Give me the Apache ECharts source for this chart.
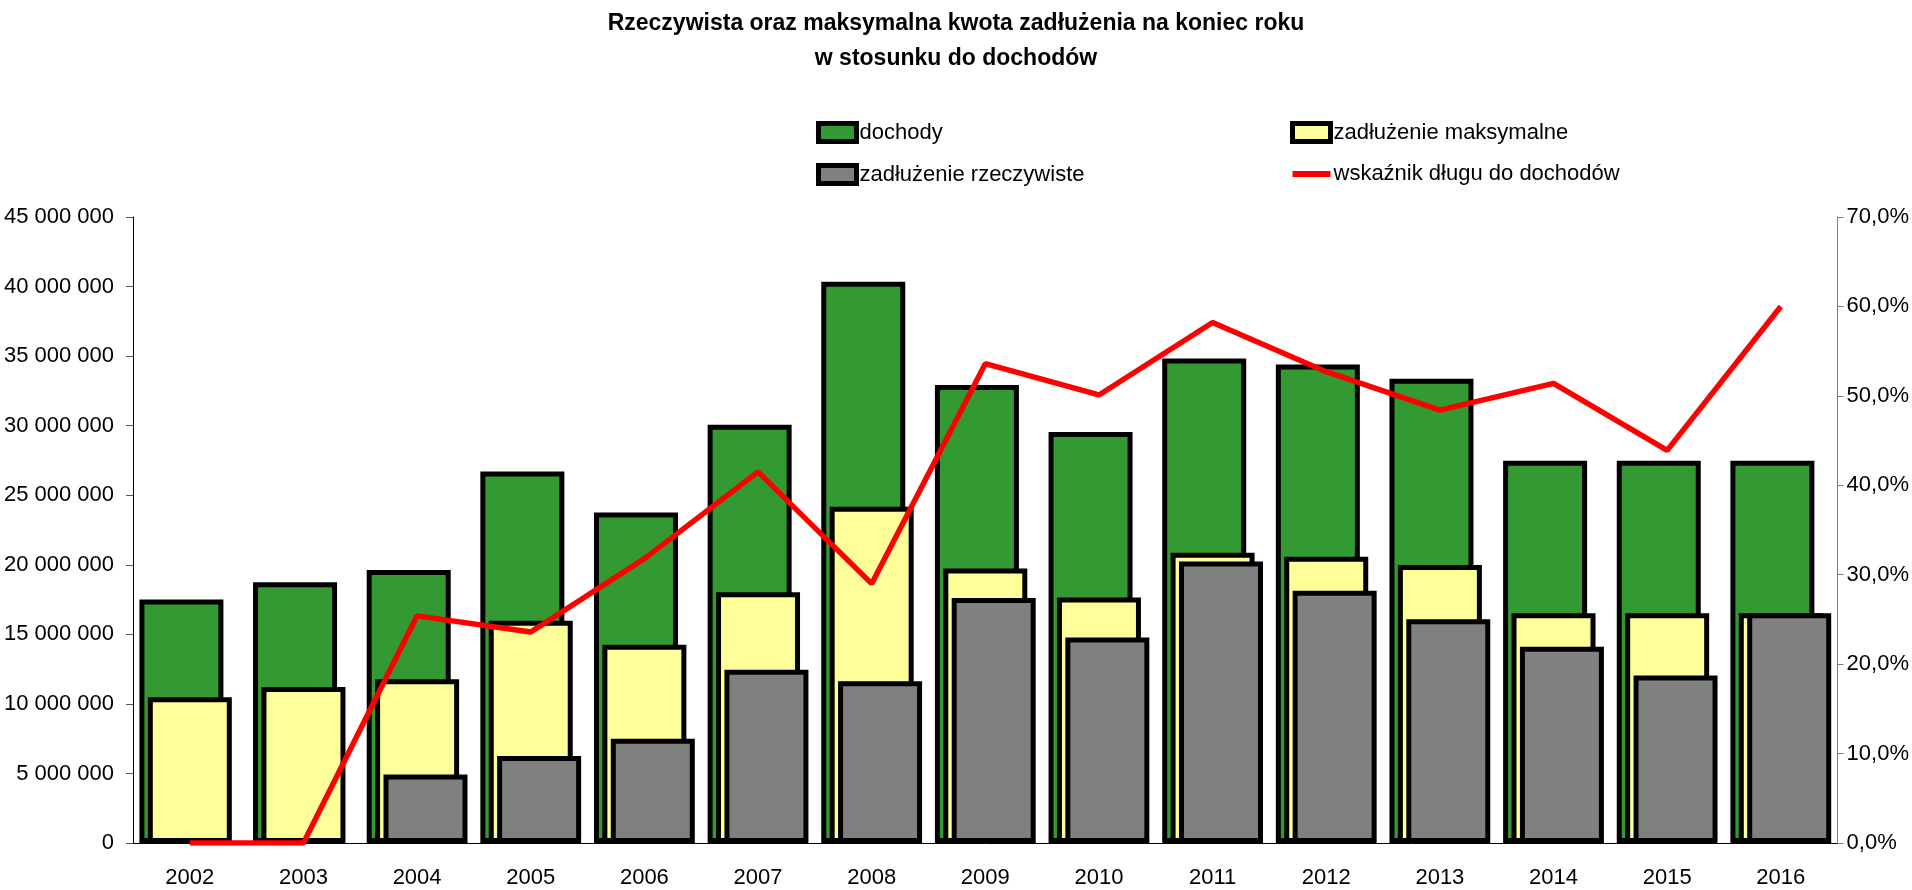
<!DOCTYPE html>
<html>
<head>
<meta charset="utf-8">
<script src="https://cdn.jsdelivr.net/npm/echarts@6/dist/echarts.min.js"></script>
<style>
  html, body { margin: 0; padding: 0; background: #fff; }
  #chart { width: 1912px; height: 890px; }
</style>
</head>
<body>
<div id="chart"></div>
<script>
const years = ['2002', '2003', '2004', '2005', '2006', '2007', '2008', '2009', '2010', '2011', '2012', '2013', '2014', '2015', '2016']
const dochody = [17500000, 18740000, 19620000, 26700000, 23750000, 30060000, 40340000, 32930000, 29540000, 34830000, 34390000, 33370000, 27470000, 27470000, 27470000]
const zadluzenieMax = [10470000, 11220000, 11770000, 15980000, 14250000, 18020000, 24170000, 19730000, 17640000, 20860000, 20580000, 19980000, 16510000, 16510000, 16510000]
const zadluzenieRzecz = [null, null, 4930000, 6260000, 7500000, 12460000, 11630000, 17610000, 14770000, 20230000, 18130000, 16090000, 14110000, 12040000, 16510000]
const wskaznik = [0, 0, 25.4, 23.6, 31.8, 41.5, 29.0, 53.6, 50.1, 58.2, 52.7, 48.4, 51.4, 43.9, 60.0]

const font = "'Liberation Sans Narrow', 'Arial Narrow', 'Liberation Sans', sans-serif"

const fmtMoney = v => String(v).replace(/\B(?=(\d{3})+(?!\d))/g, ' ')
const fmtPct = v => v.toFixed(1).replace('.', ',') + '%'

// ECharts draws the border inside barWidth, so barWidth is the outer width
const barStyle = color => ({ color: color, borderColor: '#000', borderWidth: 5 })

// thick horizontal stroke for the line legend entry (tiny dots keep the 38x18 box)
const lineIcon = 'path://M0,0h0.01v0.01h-0.01zM0,6h38v6h-38zM37.99,17.99h0.01v0.01h-0.01z'

const legendBase = {
  top: 116, orient: 'vertical', itemGap: 19,
  itemWidth: 38, itemHeight: 18,
  itemStyle: { borderColor: '#000', borderWidth: 5 },
  textStyle: { fontFamily: font, fontSize: 22, color: '#000', padding: [0, 0, 0, -2] }
}

const chart = echarts.init(document.getElementById('chart'))
chart.setOption({
  animation: false,
  textStyle: { fontFamily: font },
  title: {
    text: 'Rzeczywista oraz maksymalna kwota zadłużenia na koniec roku\nw stosunku do dochodów',
    left: 'center',
    top: 1,
    textStyle: { fontFamily: font, fontSize: 23, fontWeight: 'bold', color: '#000', lineHeight: 35 }
  },
  legend: [
    Object.assign({}, legendBase, {
      left: 811,
      data: [
        { name: 'dochody', icon: 'rect' },
        { name: 'zadłużenie rzeczywiste', icon: 'rect' }
      ]
    }),
    Object.assign({}, legendBase, {
      left: 1285,
      data: [
        { name: 'zadłużenie maksymalne', icon: 'rect' },
        { name: 'wskaźnik długu do dochodów', icon: lineIcon, itemStyle: { color: '#ff0000', borderWidth: 0 } }
      ]
    })
  ],
  grid: { left: 133, right: 69, top: 217, bottom: 47 },
  xAxis: {
    type: 'category',
    data: years,
    axisLine: { lineStyle: { color: '#000', width: 1 } },
    axisTick: { show: false },
    axisLabel: { color: '#000', fontSize: 22, margin: 24, fontFamily: font }
  },
  yAxis: [
    {
      type: 'value',
      min: 0, max: 45000000, interval: 5000000,
      splitLine: { show: false },
      axisLine: { show: true, lineStyle: { color: '#000', width: 1 } },
      axisTick: { show: true, length: 7, lineStyle: { color: '#555' } },
      axisLabel: { color: '#000', fontSize: 22, margin: 19, fontFamily: font, formatter: fmtMoney }
    },
    {
      type: 'value',
      min: 0, max: 70, interval: 10,
      splitLine: { show: false },
      axisLine: { show: true, lineStyle: { color: '#808080', width: 1 } },
      axisTick: { show: true, length: 6, lineStyle: { color: '#808080' } },
      axisLabel: { color: '#000', fontSize: 22, margin: 9, fontFamily: font, formatter: fmtPct }
    }
  ],
  series: [
    {
      name: 'dochody', type: 'bar', data: dochody,
      barWidth: 84, barGap: '-90%',
      itemStyle: barStyle('#339933')
    },
    {
      name: 'zadłużenie maksymalne', type: 'bar', data: zadluzenieMax,
      barWidth: 84, barGap: '-90%',
      itemStyle: barStyle('#ffff99')
    },
    {
      name: 'zadłużenie rzeczywiste', type: 'bar', data: zadluzenieRzecz,
      barWidth: 84, barGap: '-90%',
      itemStyle: barStyle('#808080')
    },
    {
      name: 'wskaźnik długu do dochodów', type: 'line', yAxisIndex: 1, data: wskaznik,
      symbol: 'none',
      lineStyle: { color: '#ff0000', width: 5.5 },
      itemStyle: { color: '#ff0000' }
    }
  ]
})
</script>
</body>
</html>
